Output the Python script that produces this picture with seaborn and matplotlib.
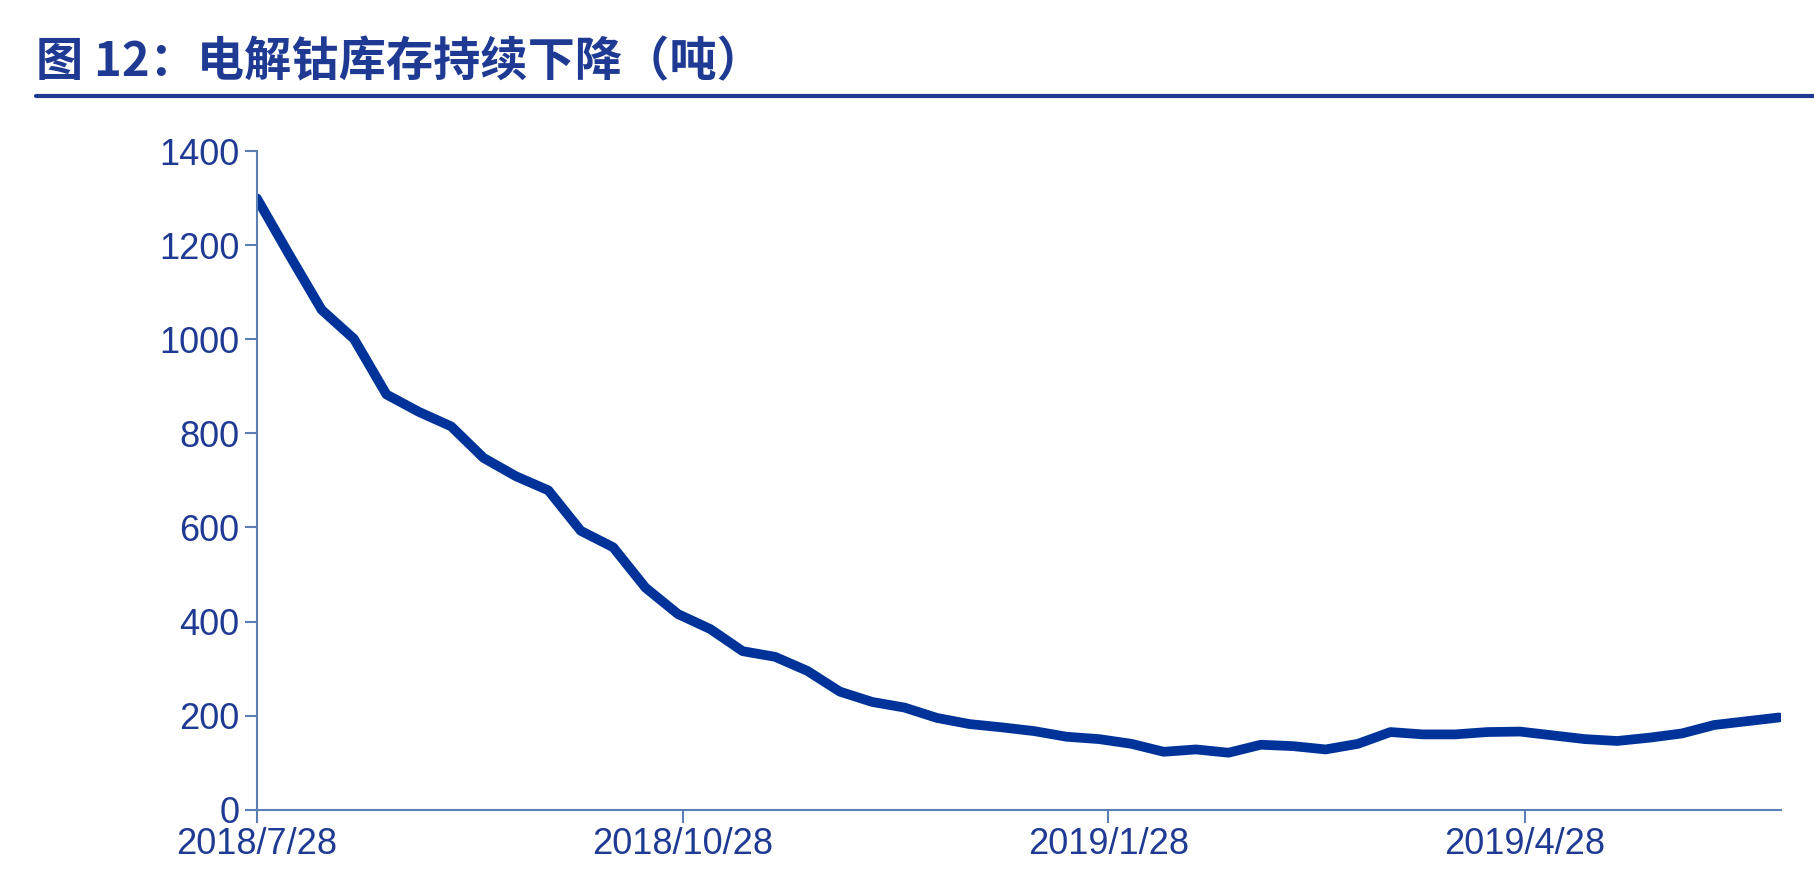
import matplotlib
matplotlib.use("Agg")
import matplotlib.pyplot as plt
import seaborn as sns
import pandas as pd

values = [1300,1180,1063,1001,883,846,815,748,709,679,593,558,472,416,384,337,325,295,251,229,217,195,182,175,167,155,150,140,123,128,121,138,135,128,140,165,160,160,165,166,158,150,146,153,162,180,188,196]
dates = pd.date_range("2018-07-28", periods=len(values), freq="7D")
tick_labels = ["2018/7/28", "2018/10/28", "2019/1/28", "2019/4/28"]
tick_dates = pd.to_datetime(["2018-07-28", "2018-10-28", "2019-01-28", "2019-04-28"])
title = "图 12：电解钴库存持续下降（吨）"

sns.set_theme(style="white")
plt.rcParams['font.family'] = ['Noto Sans CJK SC', 'DejaVu Sans']
navy = "#003399"
txt = "#1F3A93"
axc = "#5B7FB5"

fig = plt.figure(figsize=(18.14, 8.86), dpi=100)
ax = fig.add_axes([0.1416, 0.0862, 0.8404, 0.743])
df = pd.DataFrame({"date": dates, "v": values})
sns.lineplot(data=df, x="date", y="v", ax=ax, color=navy, linewidth=7)
ax.set_xlim(dates[0], dates[-1] + pd.Timedelta(days=0.5))
ax.set_ylim(0, 1400)
ax.set_yticks(range(0, 1401, 200))
ax.set_xticks(tick_dates)
ax.set_xticklabels(tick_labels)
ax.set_xlabel(""); ax.set_ylabel("")
for s in ["top", "right"]:
    ax.spines[s].set_visible(False)
for s in ["left", "bottom"]:
    ax.spines[s].set_color(axc); ax.spines[s].set_linewidth(1.5)
ax.tick_params(axis="both", colors=axc, labelcolor=txt, labelsize=26, direction="out", length=9, width=1.5, left=True, bottom=True)
for lab in ax.get_xticklabels() + ax.get_yticklabels():
    lab.set_family(['Liberation Sans', 'DejaVu Sans'])
fig.text(0.02, 0.93, title, fontsize=34, fontweight="bold", color=txt, va="center")
fig.add_artist(plt.Line2D([0.02, 1.0], [0.892, 0.892], color=txt, linewidth=3, transform=fig.transFigure))
fig.savefig("out.png", dpi=100)
